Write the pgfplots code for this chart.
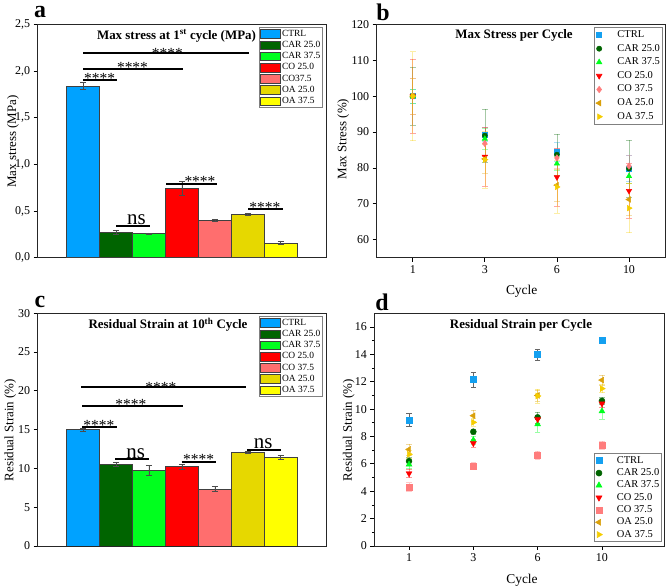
\documentclass[border=0pt]{standalone}
\usepackage{pgfplots}
\pgfplotsset{compat=1.18}
\usepackage{fontspec}
\setmainfont{Liberation Serif}
\usetikzlibrary{plotmarks}

% bar fills
\definecolor{cCTRL}{RGB}{0,162,255}
\definecolor{cCARa}{RGB}{0,100,0}
\definecolor{cCARb}{RGB}{0,255,30}
\definecolor{cCOa}{RGB}{255,0,0}
\definecolor{cCOb}{RGB}{255,110,110}
\definecolor{cOAa}{RGB}{230,216,0}
\definecolor{cOAb}{RGB}{255,255,0}
% marker colours
\definecolor{mCTRL}{RGB}{20,160,240}
\definecolor{mCOb}{RGB}{255,125,125}
\definecolor{mOAa}{RGB}{218,160,10}
\definecolor{mOAb}{RGB}{245,205,0}

\newcommand\stfont{\fontsize{15.5}{16}\selectfont}
\newcommand\nsfont{\fontsize{21}{22}\selectfont}
\newcommand\ttlfont{\fontsize{13}{15}\selectfont\bfseries}
\newcommand\lblfont{\fontsize{13}{15}\selectfont}

\pgfplotsset{
  panel/.style={scale only axis, anchor=south west,
    axis line style={line width=0.9bp, black!85},
    tick style={line width=0.8bp, black}, tick align=outside, tickpos=left,
    major tick length=4bp, minor tick length=2.5bp,
    ticklabel style={font=\fontsize{12}{14}\selectfont},
    /pgf/number format/assume math mode=true, scaled y ticks=false},
  barpanel/.style={panel, xmin=-0.38, xmax=8.38, xtick=\empty,
    ybar, bar width=1, bar shift=0pt, legend cell align=left,
    legend image code/.code={\draw[##1, draw=black!75, line width=0.5bp] (0bp,-4.3bp) rectangle (20bp,4.3bp);},
    legend style={at={(0.9896,0.9884)}, anchor=north east, draw=black!50, line width=0.6bp,
      font=\fontsize{9.5}{10}\selectfont, inner sep=1bp, row sep=0bp,
      nodes={inner sep=1.3bp, text height=6.8bp, text depth=1.8bp}}},
  bs/.style={fill=#1, draw=black!75, line width=0.5bp,
    /pgfplots/error bars/y dir=both, /pgfplots/error bars/y explicit,
    /pgfplots/error bars/error bar style={black!70, line width=0.5bp},
    /pgfplots/error bars/error mark options={black!70, rotate=90, mark size=3bp, line width=0.5bp}},
  dotpanel/.style={panel, only marks, legend cell align=left,
    xtick={1,2,3,4}, xticklabels={1,3,6,10},
    legend image code/.code={\path[draw=none, fill=none] (0bp,-0.1bp) rectangle (20bp,0.1bp); \draw[##1] plot coordinates {(3.5bp,0bp)};}},
  sc/.style n args={4}{color=#1, mark=#2, mark options={solid, fill=#1, draw=#1, #3},
    /pgfplots/error bars/y dir=both, /pgfplots/error bars/y explicit,
    /pgfplots/error bars/error bar style={#4, line width=0.6bp},
    /pgfplots/error bars/error mark options={#4, rotate=90, mark size=2.8bp, line width=0.6bp}},
}

\begin{document}
\begin{tikzpicture}[x=1bp, y=1bp]
\path[use as bounding box] (0,0) rectangle (668,588);

% ---------------- a: max stress at first cycle ----------------
\begin{axis}[barpanel, at={(37.7bp,330.3bp)}, width=288.3bp, height=233.4bp,
  ymin=0, ymax=2.5, ytick={0,0.5,1,1.5,2,2.5},
  yticklabel style={/pgf/number format/.cd, fixed, fixed zerofill, precision=1, use comma}]
\addplot[bs=cCTRL] coordinates {(1,1.84) +- (0,0.04)};
\addplot[bs=cCARa] coordinates {(2,0.27) +- (0,0.02)};
\addplot[bs=cCARb] coordinates {(3,0.26) +- (0,0.005)};
\addplot[bs=cCOa] coordinates {(4,0.74) +- (0,0.075)};
\addplot[bs=cCOb] coordinates {(5,0.40) +- (0,0.01)};
\addplot[bs=cOAa] coordinates {(6,0.465) +- (0,0.01)};
\addplot[bs=cOAb] coordinates {(7,0.16) +- (0,0.02)};
\legend{CTRL, CAR 25.0, CAR 37.5, CO 25.0, CO37.5, OA 25.0, OA 37.5}
% significance brackets
\draw[line width=2bp] (axis cs:1,1.90) -- (axis cs:2.03,1.90);
\node[font=\stfont, anchor=base, yshift=-3bp] at (axis cs:1.5,1.90) {****};
\draw[line width=2bp] (axis cs:1,2.02) -- (axis cs:4.04,2.02);
\node[font=\stfont, anchor=base, yshift=-3bp] at (axis cs:2.5,2.02) {****};
\draw[line width=2bp] (axis cs:1,2.19) -- (axis cs:6.04,2.19);
\node[font=\stfont, anchor=base, yshift=-5bp] at (axis cs:3.56,2.19) {****};
\draw[line width=2bp] (axis cs:2,0.34) -- (axis cs:3.03,0.34);
\node[font=\nsfont, anchor=base, yshift=1bp] at (axis cs:2.62,0.34) {ns};
\draw[line width=2bp] (axis cs:3.52,0.79) -- (axis cs:5.07,0.79);
\node[font=\stfont, anchor=base, yshift=-3bp] at (axis cs:4.55,0.79) {****};
\draw[line width=2bp] (axis cs:6.01,0.52) -- (axis cs:7.06,0.52);
\node[font=\stfont, anchor=base, yshift=-3bp] at (axis cs:6.52,0.52) {****};
\end{axis}

% ---------------- b: max stress per cycle ----------------
\begin{axis}[dotpanel, at={(376.7bp,330.3bp)}, width=288.3bp, height=233.4bp,
  xmin=0.5, xmax=4.5, ymin=55, ymax=120, ytick={60,70,80,90,100,110,120},
  legend style={at={(0.993,0.9884)}, anchor=north east, draw=black!50, line width=0.6bp,
    font=\fontsize{10.5}{11}\selectfont, inner sep=1bp, row sep=0bp,
    nodes={inner sep=1.8bp, text height=7.5bp, text depth=2.5bp}}]
\addplot[sc={mCTRL}{square*}{mark size=2.5bp}{mCTRL, opacity=0.35}] coordinates
  {(1,100) +- (0,2) (2,89.3) +- (0,2) (3,84.4) +- (0,2.6) (4,79.8) +- (0,3.6)};
\addplot[sc={cCARa}{*}{mark size=2.6bp}{cCARa, opacity=0.35}] coordinates
  {(1,100) +- (0,8) (2,89.0) +- (0,7.3) (3,83.7) +- (0,5.8) (4,79.8) +- (0,8)};
\addplot[sc={cCARb}{triangle*}{mark size=3.2bp}{cCARb, opacity=0.35}] coordinates
  {(1,100) +- (0,2) (2,88.1) +- (0,3) (3,81.2) +- (0,2) (4,77.7) +- (0,2)};
\addplot[sc={cCOa}{triangle*}{mark size=3.2bp, rotate=180}{cCOa, opacity=0.35}] coordinates
  {(1,100) +- (0,10.3) (2,83.1) +- (0,8.2) (3,77.4) +- (0,8) (4,73.6) +- (0,7.6)};
\addplot[sc={mCOb}{diamond*}{mark size=3.2bp}{mCOb, opacity=0.35}] coordinates
  {(1,100) +- (0,5) (2,86.8) +- (0,4.5) (3,82.8) +- (0,2.8) (4,80.5) +- (0,3)};
\addplot[sc={mOAa}{triangle*}{mark size=3.2bp, rotate=90}{mOAa, opacity=0.35}] coordinates
  {(1,100) +- (0,5) (2,82.5) +- (0,4) (3,75.2) +- (0,4.4) (4,71.2) +- (0,4.5)};
\addplot[sc={mOAb}{triangle*}{mark size=3.2bp, rotate=-90}{mOAb, opacity=0.35}] coordinates
  {(1,100) +- (0,12.4) (2,82.3) +- (0,8) (3,74.7) +- (0,7.3) (4,68.8) +- (0,6.8)};
\legend{CTRL, CAR 25.0, CAR 37.5, CO 25.0, CO 37.5, OA 25.0, OA 37.5}
\end{axis}

% ---------------- c: residual strain at tenth cycle ----------------
\begin{axis}[barpanel, at={(37.7bp,42bp)}, width=288.3bp, height=232.7bp,
  ymin=0, ymax=30, ytick={0,5,10,15,20,25,30}]
\addplot[bs=cCTRL] coordinates {(1,15.0) +- (0,0.15)};
\addplot[bs=cCARa] coordinates {(2,10.55) +- (0,0.3)};
\addplot[bs=cCARb] coordinates {(3,9.75) +- (0,0.6)};
\addplot[bs=cCOa] coordinates {(4,10.25) +- (0,0.3)};
\addplot[bs=cCOb] coordinates {(5,7.35) +- (0,0.35)};
\addplot[bs=cOAa] coordinates {(6,12.1) +- (0,0.15)};
\addplot[bs=cOAb] coordinates {(7,11.45) +- (0,0.3)};
\legend{CTRL, CAR 25.0, CAR 37.5, CO 25.0, CO 37.5, OA 25.0, OA 37.5}
\draw[line width=2bp] (axis cs:0.98,15.34) -- (axis cs:2.02,15.34);
\node[font=\stfont, anchor=base, yshift=-3bp] at (axis cs:1.48,15.34) {****};
\draw[line width=2bp] (axis cs:0.98,18.0) -- (axis cs:4.02,18.0);
\node[font=\stfont, anchor=base, yshift=-3bp] at (axis cs:2.45,18.0) {****};
\draw[line width=2bp] (axis cs:0.95,20.45) -- (axis cs:5.96,20.45);
\node[font=\stfont, anchor=base, yshift=-5bp] at (axis cs:3.36,20.45) {****};
\draw[line width=2bp] (axis cs:1.97,11.2) -- (axis cs:3.0,11.2);
\node[font=\nsfont, anchor=base, yshift=1bp] at (axis cs:2.6,11.2) {ns};
\draw[line width=2bp] (axis cs:3.99,10.83) -- (axis cs:5.03,10.83);
\node[font=\stfont, anchor=base, yshift=-3bp] at (axis cs:4.51,10.83) {****};
\draw[line width=2bp] (axis cs:5.99,12.38) -- (axis cs:7.01,12.38);
\node[font=\nsfont, anchor=base, yshift=1bp] at (axis cs:6.47,12.38) {ns};
\end{axis}

% ---------------- d: residual strain per cycle ----------------
\begin{axis}[dotpanel, at={(374.3bp,42bp)}, width=290bp, height=232.7bp,
  xmin=0.46, xmax=4.97, ymin=0, ymax=17, ytick={0,2,4,6,8,10,12,14,16}, minor y tick num=1,
  legend style={at={(0.992,0.017)}, anchor=south east, draw=black!50, line width=0.6bp,
    font=\fontsize{10.5}{11}\selectfont, inner sep=1bp, row sep=0bp,
    nodes={inner sep=1.4bp, text height=7.2bp, text depth=2.3bp}}]
\addplot[sc={mCTRL}{square*}{mark size=3bp}{black!60}] coordinates
  {(1,9.22) +- (0,0.48) (2,12.15) +- (0,0.55) (3,14.0) +- (0,0.4) (4,15.0) +- (0,0.15)};
\addplot[sc={cCARa}{*}{mark size=3bp}{cCARa, opacity=0.4}] coordinates
  {(1,6.2) +- (0,0.3) (2,8.35) +- (0,0.2) (3,9.4) +- (0,0.4) (4,10.6) +- (0,0.25)};
\addplot[sc={cCARb}{triangle*}{mark size=3.4bp}{cCARb, opacity=0.4}] coordinates
  {(1,5.96) +- (0,0.3) (2,7.74) +- (0,0.3) (3,8.9) +- (0,0.6) (4,9.85) +- (0,0.6)};
\addplot[sc={cCOa}{triangle*}{mark size=3.4bp, rotate=180}{cCOa, opacity=0.4}] coordinates
  {(1,5.3) +- (0,0.3) (2,7.5) +- (0,0.3) (3,9.25) +- (0,0.3) (4,10.4) +- (0,0.3)};
\addplot[sc={mCOb}{square*}{mark size=3bp}{mCOb, opacity=0.4}] coordinates
  {(1,4.33) +- (0,0.3) (2,5.84) +- (0,0.25) (3,6.65) +- (0,0.3) (4,7.38) +- (0,0.3)};
\addplot[sc={mOAa}{triangle*}{mark size=3.4bp, rotate=90}{mOAa, opacity=0.4}] coordinates
  {(1,7.06) +- (0,0.4) (2,9.52) +- (0,0.4) (3,11.0) +- (0,0.4) (4,12.12) +- (0,0.35)};
\addplot[sc={mOAb}{triangle*}{mark size=3.4bp, rotate=-90}{mOAb, opacity=0.4}] coordinates
  {(1,6.7) +- (0,0.3) (2,9.03) +- (0,0.3) (3,10.96) +- (0,0.5) (4,11.5) +- (0,0.3)};
\legend{CTRL, CAR 25.0, CAR 37.5, CO 25.0, CO 37.5, OA 25.0, OA 37.5}
\end{axis}

% titles, axis labels and panel letters
\node[font=\ttlfont] at (176.5,552) {Max stress at 1\textsuperscript{st} cycle (MPa)};
\node[font=\ttlfont] at (514,553) {Max Stress per Cycle};
\node[font=\ttlfont] at (168,263) {Residual Strain at 10\textsuperscript{th} Cycle};
\node[font=\ttlfont] at (521,262.3) {Residual Strain per Cycle};

\node[font=\lblfont, rotate=90] at (13,446.5) {Max stress (MPa)};
\node[font=\lblfont, rotate=90] at (343.3,449) {Max Stress (\%)};
\node[font=\lblfont, rotate=90] at (10.3,158) {Residual Strain (\%)};
\node[font=\lblfont, rotate=90] at (348.7,158) {Residual Strain (\%)};
\node[font=\fontsize{13.5}{15}\selectfont] at (521.7,297) {Cycle};
\node[font=\fontsize{13.5}{15}\selectfont] at (522,8) {Cycle};

\node[font=\fontsize{24}{26}\selectfont\bfseries] at (40,575.5) {a};
\node[font=\fontsize{24}{26}\selectfont\bfseries] at (383,575.5) {b};
\node[font=\fontsize{24}{26}\selectfont\bfseries] at (40,286) {c};
\node[font=\fontsize{24}{26}\selectfont\bfseries] at (382,286) {d};
\end{tikzpicture}
\end{document}
